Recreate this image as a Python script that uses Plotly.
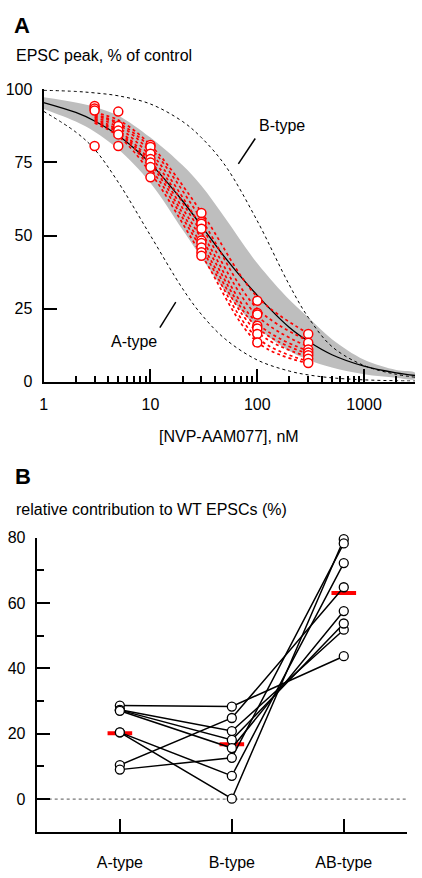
import math
import plotly.graph_objects as go

# ---------------- Panel A data ----------------
curve_conc = [1, 2, 3, 5, 10, 20, 30, 50, 100, 200, 300, 500, 1000, 2000, 3000]
mean_fit = [95.5, 92.1, 89.2, 84.2, 74.6, 61.8, 53.3, 42.4, 29.5, 18.5, 13.8, 9.2, 5.3, 3.0, 2.1]
band_upper = [97.3, 95.5, 94.0, 91.0, 83.5, 74.0, 67.0, 56.0, 40.5, 28.0, 22.0, 14.5, 7.5, 4.0, 3.0]
band_lower = [93.3, 89.0, 85.5, 79.5, 68.0, 52.0, 42.5, 31.0, 18.5, 10.5, 7.5, 4.8, 2.5, 1.3, 0.9]
b_type_fit = [99.7, 99.3, 98.8, 97.8, 95.0, 89.0, 83.5, 74.0, 55.0, 33.0, 22.0, 12.0, 5.5, 2.5, 1.5]
a_type_fit = [92.5, 85.4, 79.5, 68.2, 50.0, 31.8, 23.0, 14.6, 7.4, 3.6, 2.3, 1.3, 0.6, 0.3, 0.2]

# individual cells: measured points
cell_conc = [3, 5, 10, 30, 100, 300]
cell_values = [
    [94.3, 92.4, 81.0, 57.7, 27.7, 16.3],
    [93.5, 87.5, 80.3, 54.6, 23.5, 13.3],
    [92.8, 85.9, 78.0, 54.0, 23.0, 11.0],
    [None, None, 76.2, 52.3, 19.1, 10.0],
    [None, None, 75.0, 48.3, 18.2, 9.0],
    [None, 84.6, 73.4, 47.4, 16.3, 7.8],
    [80.6, 80.6, 69.9, 45.9, None, 6.4],
    [None, None, None, 44.3, 13.4, None],
    [None, None, None, 43.1, None, None],
]
# individual cells: fitted curves (red dotted)
cell_fit_conc = [3, 5, 10, 30, 100, 300]
cell_fits = [
    [92.0, 89.5, 81.0, 58.0, 29.0, 16.5],
    [91.5, 88.5, 80.0, 55.5, 25.0, 14.0],
    [91.0, 88.0, 78.5, 53.0, 22.5, 12.0],
    [90.5, 87.0, 77.0, 51.0, 20.0, 10.5],
    [90.0, 86.0, 75.5, 49.0, 18.5, 9.5],
    [89.5, 85.5, 74.5, 47.0, 17.0, 8.5],
    [89.0, 85.0, 73.0, 45.5, 15.0, 7.0],
    [88.5, 84.0, 71.5, 43.5, 13.5, 6.3],
]

# ---------------- Panel B data ----------------
categories = ["A-type", "B-type", "AB-type"]
a_type = [28.6, 27.3, 27.2, 27.0, 20.4, 20.4, 10.4, 9.0]
b_type = [28.3, 20.8, 18.1, 15.6, 7.1, 0.1, 24.8, 12.6]
ab_type = [43.7, 51.8, 53.7, 57.5, 72.2, 79.5, 64.8, 78.2]
group_means = [20.1, 16.8, 63.0]

W, H = 422, 878
FONT = "Liberation Sans, Arial, Helvetica, sans-serif"
RED = "#ff0000"

fig = go.Figure()

# ---- Panel A ----
fig.add_trace(go.Scatter(
    x=curve_conc + curve_conc[::-1], y=band_upper + band_lower[::-1],
    fill="toself", fillcolor="#bebebe", line=dict(width=0, shape="spline"),
    mode="lines", hoverinfo="skip", xaxis="x", yaxis="y"))
for ys in (b_type_fit, a_type_fit):
    fig.add_trace(go.Scatter(x=curve_conc, y=ys, mode="lines",
                             line=dict(color="black", width=1, dash="dot", shape="spline"),
                             xaxis="x", yaxis="y"))
fig.add_trace(go.Scatter(x=curve_conc, y=mean_fit, mode="lines",
                         line=dict(color="black", width=1.3, shape="spline"),
                         xaxis="x", yaxis="y"))
for ys in cell_fits:
    fig.add_trace(go.Scatter(x=cell_fit_conc, y=ys, mode="lines",
                             line=dict(color=RED, width=1.7, dash="dot", shape="spline"),
                             xaxis="x", yaxis="y"))
for vals in cell_values:
    xs = [c for c, v in zip(cell_conc, vals) if v is not None]
    ys = [v for v in vals if v is not None]
    fig.add_trace(go.Scatter(x=xs, y=ys, mode="markers", cliponaxis=False,
                             marker=dict(symbol="circle", size=9, color="white",
                                         line=dict(color=RED, width=1.5)),
                             xaxis="x", yaxis="y"))
# leader lines for labels
fig.add_trace(go.Scatter(x=[10 ** 1.981, 10 ** 1.823], y=[83.2, 74.5], mode="lines",
                         line=dict(color="black", width=1.5), xaxis="x", yaxis="y"))
fig.add_trace(go.Scatter(x=[10 ** 1.237, 10 ** 1.088], y=[27.2, 18.5], mode="lines",
                         line=dict(color="black", width=1.5), xaxis="x", yaxis="y"))

# ---- Panel B ----
fig.add_trace(go.Scatter(x=[-0.743, 2.566], y=[0, 0], mode="lines",
                         line=dict(color="#777777", width=1.2, dash="dot"),
                         xaxis="x2", yaxis="y2"))
for i, m in enumerate(group_means):
    fig.add_trace(go.Scatter(x=[i - 0.11, i + 0.11], y=[m, m], mode="lines",
                             line=dict(color=RED, width=4), xaxis="x2", yaxis="y2"))
for a, b, ab in zip(a_type, b_type, ab_type):
    fig.add_trace(go.Scatter(x=[0, 1, 2], y=[a, b, ab], mode="lines",
                             line=dict(color="black", width=1.5),
                             xaxis="x2", yaxis="y2"))
for a, b, ab in zip(a_type, b_type, ab_type):
    fig.add_trace(go.Scatter(x=[0, 1, 2], y=[a, b, ab], mode="markers", cliponaxis=False,
                             marker=dict(symbol="circle", size=9, color="white",
                                         line=dict(color="black", width=1.3)),
                             xaxis="x2", yaxis="y2"))

minor_log = [m * 10 ** k for k in range(0, 4) for m in range(2, 10) if m * 10 ** k <= 3000]

axis_common = dict(showline=True, linecolor="black", linewidth=2, showgrid=False,
                   zeroline=False, ticks="inside", tickcolor="black", tickwidth=2,
                   ticklen=13, tickfont=dict(size=16, family=FONT, color="black"))

fig.update_layout(
    width=W, height=H, margin=dict(l=0, r=0, t=0, b=0),
    paper_bgcolor="white", plot_bgcolor="white", showlegend=False,
    font=dict(family=FONT, size=16, color="black"),
    xaxis=dict(type="log", range=[0, math.log10(3000)], domain=[40 / W, 415 / W],
               anchor="y", tickmode="array", tickvals=[1, 10, 100, 1000],
               ticktext=["1", "10", "100", "1000"], ticklabelstandoff=7,
               minor=dict(ticks="inside", ticklen=6, tickwidth=1.5, tickcolor="black",
                          tickmode="array", tickvals=minor_log, showgrid=False),
               **axis_common),
    yaxis=dict(range=[0, 100], domain=[497 / H, 795 / H], anchor="x",
               tickmode="array", tickvals=[0, 25, 50, 75, 100], ticklabelstandoff=6,
               **axis_common),
    xaxis2=dict(range=[-0.743, 2.566], domain=[33 / W, 407 / W], anchor="y2",
                tickmode="array", tickvals=[0, 1, 2], ticktext=categories,
                ticklabelstandoff=15, **axis_common),
    yaxis2=dict(range=[-10, 80], domain=[38 / H, 338 / H], anchor="x2",
                tickmode="array", tickvals=[0, 20, 40, 60, 80], ticklabelstandoff=6,
                minor=dict(ticks="inside", ticklen=7, tickwidth=1.5, tickcolor="black",
                           tickmode="array", tickvals=[10, 30, 50, 70], showgrid=False),
                **axis_common),
)

ann = [
    dict(text="<b>A</b>", x=8 / W, y=1 - 18 / H, size=22),
    dict(text="EPSC peak, % of control", x=10 / W, y=1 - 48 / H, size=16),
    dict(text="<b>B</b>", x=9 / W, y=1 - 478 / H, size=22),
    dict(text="relative contribution to WT EPSCs (%)", x=10 / W, y=1 - 511 / H, size=16),
]
for a in ann:
    fig.add_annotation(text=a["text"], x=a["x"], y=a["y"], xref="paper", yref="paper",
                       xanchor="left", yanchor="middle", showarrow=False,
                       font=dict(size=a["size"], family=FONT, color="black"))
fig.add_annotation(text="[NVP-AAM077], nM", x=227.5 / W, y=1 - 437 / H, xref="paper",
                   yref="paper", xanchor="center", yanchor="middle", showarrow=False,
                   font=dict(size=16, family=FONT, color="black"))
fig.add_annotation(text="B-type", x=2.233, y=87.6, xref="x", yref="y", showarrow=False,
                   xanchor="center", yanchor="middle",
                   font=dict(size=16, family=FONT, color="black"))
fig.add_annotation(text="A-type", x=0.847, y=13.8, xref="x", yref="y", showarrow=False,
                   xanchor="center", yanchor="middle",
                   font=dict(size=16, family=FONT, color="black"))

fig.write_html("out.html", config={"displayModeBar": False},
               post_script="document.body.style.margin='0';document.body.style.overflow='hidden';")
